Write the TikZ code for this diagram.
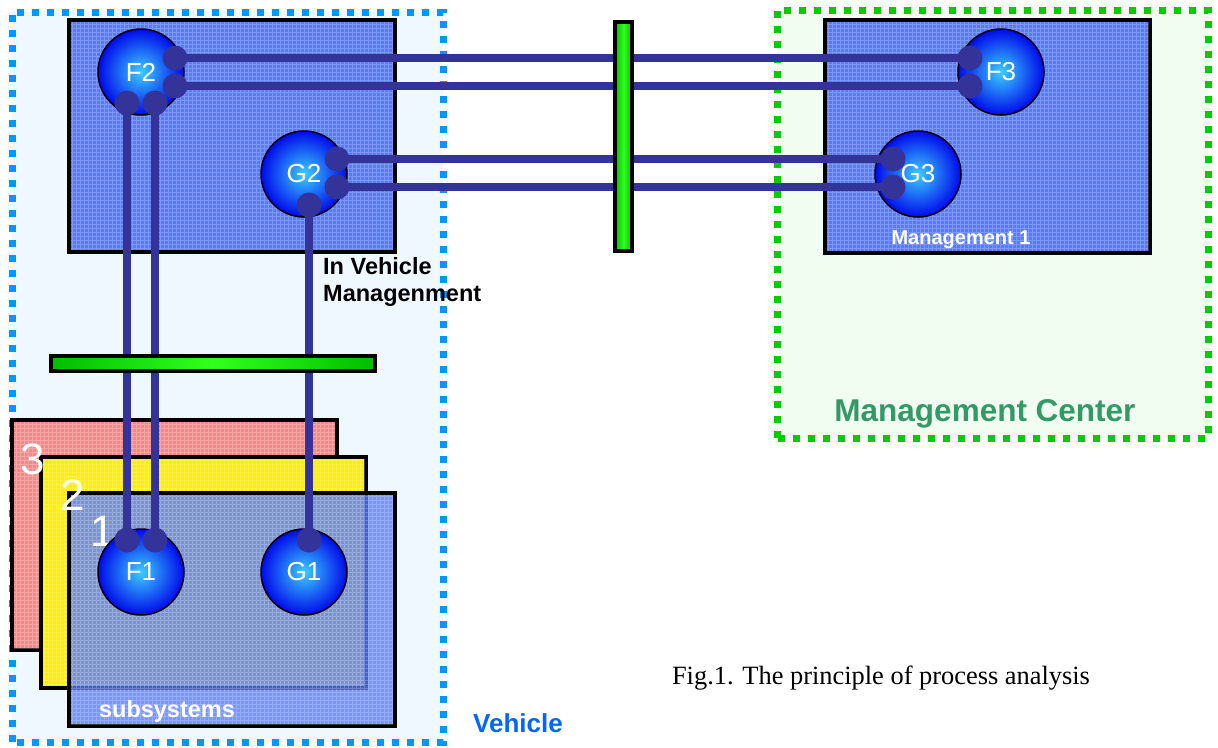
\documentclass[tikz,border=0pt]{standalone}
\usepackage{fontspec}
\setmainfont{Liberation Serif}
\setsansfont{Liberation Sans}
\usetikzlibrary{shapes.geometric}
\definecolor{wire}{RGB}{51,51,153}
\definecolor{boxblue}{RGB}{88,122,255}
\definecolor{vehblue}{RGB}{0,150,255}
\definecolor{vehfill}{RGB}{240,248,255}
\definecolor{mcgreen}{RGB}{0,204,0}
\definecolor{mcfill}{RGB}{242,253,242}
\definecolor{mctext}{RGB}{51,153,102}
\definecolor{barg}{RGB}{50,255,30}
\definecolor{bargd}{RGB}{0,190,0}
\definecolor{subred}{RGB}{245,135,135}
\definecolor{subyel}{RGB}{255,238,0}
\definecolor{vtext}{RGB}{0,102,255}
\tikzset{
  dotborder/.style={line width=7pt, dash pattern=on 7pt off 8pt},
  mainbox/.style={draw=black, line width=4pt, fill=boxblue},
  func/.style={circle, draw=black, line width=1.5pt, minimum size=86pt, inner sep=0pt,
    inner color={rgb,255:red,60;green,205;blue,255}, outer color={rgb,255:red,0;green,10;blue,235},
    text=white, font=\sffamily\fontsize{26}{26}\selectfont},
  port/.style={circle, fill=wire, minimum size=25pt, inner sep=0pt},
  wireline/.style={draw=wire, line width=8pt},
  vbar/.style={draw=black, line width=4pt, left color=bargd, right color=bargd, middle color=barg},
  hbar/.style={draw=black, line width=4pt, left color=bargd, right color=bargd, middle color=barg},
  gridov/.style={white, opacity=0.22, line width=0.6pt},
  bignum/.style={text=white, font=\sffamily\fontsize{44}{44}\selectfont},
}
\begin{document}
\begin{tikzpicture}[x=1pt,y=-1pt]
\useasboundingbox (0,0) rectangle (1218,747);
\fill[white] (0,0) rectangle (1218,747);
% outer zones
\fill[vehfill] (12,12) rectangle (443,742);
\draw[vehblue, dotborder] (12,742) -- (12,12) -- (443,12) -- (443,742) -- cycle;
\fill[mcfill] (777,10) rectangle (1208,438);
\draw[mcgreen, dotborder] (777,438) -- (777,10) -- (1208,10) -- (1208,438) -- cycle;
% management boxes
\draw[mainbox] (69,20) rectangle (395,252);
\draw[gridov, step=4pt] (71,22) grid (393,250);
\draw[mainbox] (825,20) rectangle (1150,253);
\draw[gridov, step=4pt] (827,22) grid (1148,251);
% subsystem stack
\draw[draw=black, line width=4pt, fill=subred] (12,420) rectangle (337,650);
\draw[white, opacity=0.25, line width=0.6pt, step=4pt] (14,422) grid (335,648);
\draw[draw=black, line width=4pt, fill=subyel] (41,457) rectangle (366,688);
\draw[white, opacity=0.25, line width=0.6pt, step=4pt] (43,459) grid (364,686);
\draw[draw=black, line width=4pt, fill=boxblue, fill opacity=0.78] (69,493) rectangle (395,726);
\draw[gridov, step=4pt] (71,495) grid (393,724);
\node[bignum] (n3) at (33,459) {3};
\node[bignum] (n2) at (73,495) {2};
\node[bignum] (n1) at (103,531) {1};
% functions
\node[func] (F2) at (141,72) {F2};
\node[func] (G2) at (304,174) {G2};
\node[func] (F3) at (1001,72) {F3};
\node[func] (G3) at (918,174) {G3};
\node[func] (F1) at (141,572) {F1};
\node[func] (G1) at (304,572) {G1};
% ports
\node[port] (f2a) at (175,58) {};
\node[port] (f2b) at (175,86) {};
\node[port] (f2c) at (127,103) {};
\node[port] (f2d) at (155,103) {};
\node[port] (g2a) at (337,159) {};
\node[port] (g2b) at (337,187) {};
\node[port] (g2c) at (309,205) {};
\node[port] (f3a) at (970,58) {};
\node[port] (f3b) at (970,86) {};
\node[port] (g3a) at (893,159) {};
\node[port] (g3b) at (893,187) {};
\node[port] (f1a) at (127,540) {};
\node[port] (f1b) at (155,540) {};
\node[port] (g1a) at (309,540) {};
% wires
\draw[wireline] (f2a.center) -- (f3a.center);
\draw[wireline] (f2b.center) -- (f3b.center);
\draw[wireline] (g2a.center) -- (g3a.center);
\draw[wireline] (g2b.center) -- (g3b.center);
\draw[wireline] (f2c.center) -- (f1a.center);
\draw[wireline] (f2d.center) -- (f1b.center);
\draw[wireline] (g2c.center) -- (g1a.center);
% buses
\node[vbar, minimum width=17pt, minimum height=229pt, inner sep=0pt] (busv) at (623.5,136.5) {};
\node[hbar, minimum width=324pt, minimum height=15pt, inner sep=0pt] (bush) at (213,363.5) {};
% labels
\node[anchor=north west, align=left, font=\sffamily\bfseries\fontsize{23.5}{27}\selectfont, inner sep=0pt] (ivm) at (323,257) {In Vehicle\\Managenment};
\node[text=white, font=\sffamily\bfseries\fontsize{20}{20}\selectfont] (m1) at (961,240) {Management 1};
\node[text=mctext, font=\sffamily\bfseries\fontsize{31.5}{31.5}\selectfont] (mc) at (985,414) {Management Center};
\node[text=white, font=\sffamily\bfseries\fontsize{23.5}{23.5}\selectfont] (subs) at (167,711) {subsystems};
\node[text=vtext, font=\sffamily\bfseries\fontsize{26}{26}\selectfont] (veh) at (518,723) {Vehicle};
\node[font=\fontsize{26.4}{26.4}\selectfont] (cap) at (881,678) {Fig.1. The principle of process analysis};
\end{tikzpicture}
\end{document}
